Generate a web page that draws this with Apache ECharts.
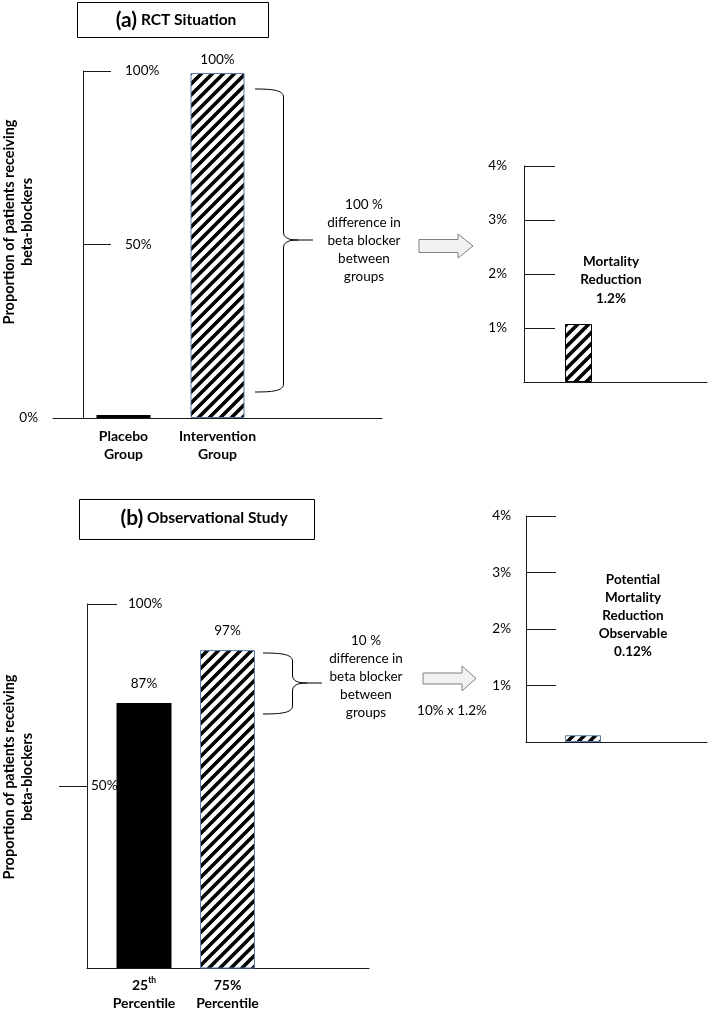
<!DOCTYPE html>
<html><head><meta charset="utf-8">
<script src="https://cdn.jsdelivr.net/npm/echarts@6/dist/echarts.min.js"></script>
<style>html,body{margin:0;padding:0;background:#fff}#c{width:708px;height:1010px}</style>
</head><body><div id="c"></div>
<script>
// ---- data ----
const rctCategories = ['Placebo Group', 'Intervention Group'];
const rctValues = [0, 100];
const rctMortalityCategories = ['Mortality Reduction'];
const rctMortalityValues = [1.2];
const obsCategories = ['25th Percentile', '75% Percentile'];
const obsValues = [87, 97];
const obsMortalityCategories = ['Potential Mortality Reduction Observable'];
const obsMortalityValues = [0.12];
const proportionTicks = [0, 50, 100];
const mortalityTicks = [0, 1, 2, 3, 4];

// ---- style ----
const FONT = 'Lato, "Open Sans", sans-serif';
const AX = '#1a1a1a';
const BLUE = '#5b7da8';
const pct = v => v + '%';

function hatch() {
  const p = 11, c = document.createElement('canvas');
  c.width = p; c.height = p;
  const g = c.getContext('2d');
  g.fillStyle = '#fff'; g.fillRect(0, 0, p, p);
  g.strokeStyle = '#000'; g.lineWidth = 3.6; g.beginPath();
  g.moveTo(-2, p + 2); g.lineTo(p + 2, -2);
  g.moveTo(-2, 2); g.lineTo(2, -2);
  g.moveTo(p - 2, p + 2); g.lineTo(p + 2, p - 2);
  g.stroke();
  return { image: c, repeat: 'repeat' };
}
const HATCH = hatch();

const lineStyle = { color: AX, width: 1 };
const G = (left, top, width, height) => ({ left, top, width, height, containLabel: false, outerBoundsMode: 'none' });

function catLabel(v) {
  const m = v.match(/^(\d+)(th)\s(.*)$/);
  if (m) return `{n|${m[1]}}{s|${m[2]}}\n{n|${m[3]}}`;
  return v.split(' ').map(w => `{n|${w}}`).join('\n');
}
const catRich = {
  n: { fontFamily: FONT, fontWeight: 'bold', fontSize: 14, lineHeight: 18, color: '#000' },
  s: { fontFamily: FONT, fontWeight: 'bold', fontSize: 8.5, lineHeight: 18, verticalAlign: 'top', color: '#000' }
};

const frameX = (gi) => ({ gridIndex: gi, type: 'category', data: [''], position: 'bottom',
  axisLine: { show: true, onZero: false, lineStyle }, axisTick: { show: false }, axisLabel: { show: false }, splitLine: { show: false } });
const barX = (gi, data, showLabel, margin) => ({ gridIndex: gi, type: 'category', data, position: 'bottom',
  axisLine: { show: false }, axisTick: { show: false },
  axisLabel: { show: showLabel, margin: margin || 8, formatter: catLabel, rich: catRich, interval: 0 } });
const hiddenY = (gi, min, max) => ({ gridIndex: gi, type: 'value', position: 'left', min, max, show: false, splitLine: { show: false } });
const lblStyle = { color: '#000', fontFamily: FONT, fontSize: 13.5 };

const option = {
  animation: false,
  backgroundColor: '#fff',
  grid: [
    G(53, 71, 329, 347),    // 0 RCT frame
    G(76.5, 73, 188, 345),  // 1 RCT bars
    G(524, 166, 183, 216),  // 2 RCT mortality frame
    G(524, 166, 109, 216),  // 3 RCT mortality bar
    G(87, 604, 282, 364),   // 4 Obs frame
    G(102.25, 604, 167, 364), // 5 Obs bars
    G(526, 516, 181, 226),  // 6 Obs mortality frame
    G(526, 516, 114, 226)   // 7 Obs mortality bar
  ],
  xAxis: [
    frameX(0),
    barX(1, rctCategories, true, 9),
    frameX(2),
    barX(3, rctMortalityCategories, false),
    frameX(4),
    barX(5, obsCategories, true, 8),
    frameX(6),
    barX(7, obsMortalityCategories, false)
  ],
  yAxis: [
    { gridIndex: 0, type: 'value', position: 'left', min: proportionTicks[0], max: proportionTicks[2], interval: 50, offset: -30,
      axisLine: { show: true, onZero: false, lineStyle }, axisTick: { show: true, inside: true, length: 28, lineStyle },
      axisLabel: { inside: true, margin: 42, ...lblStyle, formatter: v => v === 0 ? '' : pct(v) }, splitLine: { show: false } },
    { gridIndex: 0, type: 'value', position: 'left', min: 0, max: 100, interval: 100, offset: -30,
      axisLine: { show: false }, axisTick: { show: false },
      axisLabel: { margin: 45, ...lblStyle, padding: [14, 0, 0, 0], formatter: v => v === 0 ? pct(v) : '' }, splitLine: { show: false } },
    hiddenY(1, 0, 100),
    { gridIndex: 2, type: 'value', position: 'left', min: mortalityTicks[0], max: mortalityTicks[4], interval: 1,
      axisLine: { show: true, onZero: false, lineStyle }, axisTick: { show: true, inside: true, length: 31, lineStyle },
      axisLabel: { margin: 17, ...lblStyle, formatter: v => v === 0 ? '' : pct(v) }, splitLine: { show: false } },
    hiddenY(3, 0, 4.47),
    { gridIndex: 4, type: 'value', position: 'left', min: 0, max: 100, interval: 100,
      axisLine: { show: true, onZero: false, lineStyle }, axisTick: { show: true, inside: true, length: 30, lineStyle },
      axisLabel: { inside: true, margin: 41, ...lblStyle, formatter: v => v === 100 ? pct(v) : '' }, splitLine: { show: false } },
    { gridIndex: 4, type: 'value', position: 'left', min: 0, max: 100, interval: 50,
      axisLine: { show: false }, axisTick: { show: true, inside: false, length: 28, lineStyle, customValues: [proportionTicks[1]] },
      axisLabel: { inside: true, margin: 4, ...lblStyle, padding: [8, 0, 0, 0], customValues: [proportionTicks[1]], formatter: v => v === 50 ? pct(v) : '' }, splitLine: { show: false } },
    hiddenY(5, 37, 105.7),
    { gridIndex: 6, type: 'value', position: 'left', min: mortalityTicks[0], max: mortalityTicks[4], interval: 1,
      axisLine: { show: true, onZero: false, lineStyle }, axisTick: { show: true, inside: true, length: 30, lineStyle },
      axisLabel: { margin: 15, ...lblStyle, formatter: v => v === 0 ? '' : pct(v) }, splitLine: { show: false } },
    hiddenY(7, 0, 4)
  ],
  series: [
    { type: 'bar', xAxisIndex: 1, yAxisIndex: 2, barWidth: 54, barMinHeight: 3,
      data: rctValues.map((v, i) => ({ value: v,
        itemStyle: i === 0 ? { color: '#000' } : { color: HATCH, borderColor: BLUE, borderWidth: 1 },
        label: { show: i === 1 } })),
      label: { position: 'top', distance: 6, ...lblStyle, formatter: p => pct(p.value) } },
    { type: 'bar', xAxisIndex: 3, yAxisIndex: 4, barWidth: 27,
      data: rctMortalityValues, itemStyle: { color: HATCH, borderColor: '#000', borderWidth: 1 } },
    { type: 'bar', xAxisIndex: 5, yAxisIndex: 7, barWidth: 55,
      data: obsValues.map((v, i) => ({ value: v,
        itemStyle: i === 0 ? { color: '#000' } : { color: HATCH, borderColor: BLUE, borderWidth: 1 } })),
      label: { show: true, position: 'top', distance: 12, ...lblStyle, formatter: p => pct(p.value) } },
    { type: 'bar', xAxisIndex: 7, yAxisIndex: 9, barWidth: 36,
      data: obsMortalityValues, itemStyle: { color: HATCH, borderColor: BLUE, borderWidth: 1 } }
  ]
};

// ---- annotations ----
const S = { stroke: '#000', lineWidth: 1, fill: null };
function brace(x0, xv, xt, yTop, yMid, yBot) {
  const r = 8;
  return [
    { type: 'bezierCurve', shape: { x1: x0, y1: yTop, cpx1: x0 + 17, cpy1: yTop, cpx2: xv, cpy2: yTop + 1, x2: xv, y2: yTop + r }, style: S },
    { type: 'line', shape: { x1: xv, y1: yTop + r, x2: xv, y2: yMid - r }, style: S },
    { type: 'bezierCurve', shape: { x1: xv, y1: yMid - r, cpx1: xv, cpy1: yMid - 2, cpx2: xv + 5, cpy2: yMid, x2: xv + 15, y2: yMid }, style: S },
    { type: 'line', shape: { x1: xv + 15, y1: yMid, x2: xt, y2: yMid }, style: S },
    { type: 'bezierCurve', shape: { x1: xv + 15, y1: yMid, cpx1: xv + 5, cpy1: yMid, cpx2: xv, cpy2: yMid + 2, x2: xv, y2: yMid + r }, style: S },
    { type: 'line', shape: { x1: xv, y1: yMid + r, x2: xv, y2: yBot - r }, style: S },
    { type: 'bezierCurve', shape: { x1: xv, y1: yBot - r, cpx1: xv, cpy1: yBot - 1, cpx2: x0 + 17, cpy2: yBot, x2: x0, y2: yBot }, style: S }
  ];
}
function arrow(x0, xh, x1, yc, bh, hh) {
  return { type: 'polygon', shape: { points: [[x0, yc - bh], [xh, yc - bh], [xh, yc - hh], [x1, yc], [xh, yc + hh], [xh, yc + bh], [x0, yc + bh]] },
    style: { fill: '#f2f2f2', stroke: '#808080', lineWidth: 1 } };
}
function txt(text, x, y, opts) {
  opts = opts || {};
  return { type: 'text', x, y, rotation: opts.rotation || 0, z: 10,
    style: { text, fill: '#000', font: (opts.bold ? 'bold ' : '') + (opts.size || 13.5) + 'px ' + FONT,
      textAlign: 'center', textVerticalAlign: 'middle', align: 'center', verticalAlign: 'middle',
      lineHeight: opts.lh || 18, rich: opts.rich } };
}
const titleRich = {
  p: { fontFamily: FONT, fontWeight: 'bold', fontSize: 21, color: '#000' },
  t: { fontFamily: FONT, fontWeight: 'bold', fontSize: 15.5, color: '#000' }
};
const yTitle = 'Proportion of patients receiving\nbeta-blockers';

option.graphic = { elements: [
  { type: 'rect', shape: { x: 77.5, y: 2.5, width: 191, height: 35 }, style: { fill: '#fff', stroke: '#000', lineWidth: 1 } },
  txt('{p|(a)}{t| RCT Situation}', 176, 20, { rich: titleRich }),
  { type: 'rect', shape: { x: 79.5, y: 499.5, width: 235, height: 40 }, style: { fill: '#fff', stroke: '#000', lineWidth: 1 } },
  txt('{p|(b)}{t| Observational Study}', 204, 518, { rich: titleRich }),
  ...brace(255, 283.5, 313, 89, 240, 392),
  ...brace(263, 292.5, 322, 653, 683, 714),
  arrow(419, 458, 473, 246, 6.5, 12),
  arrow(423, 462, 476, 678.5, 5.5, 12.5),
  txt('100 %\ndifference in\nbeta blocker\nbetween\ngroups', 364, 241),
  txt('10 %\ndifference in\nbeta blocker\nbetween\ngroups', 366, 677),
  txt('10% x 1.2%', 452, 711),
  txt('Mortality\nReduction\n1.2%', 611, 280, { bold: true, lh: 18.5 }),
  txt('Potential\nMortality\nReduction\nObservable\n0.12%', 633, 615.5, { bold: true }),
  txt(yTitle, 18.5, 222, { bold: true, size: 14.5, rotation: Math.PI / 2 }),
  txt(yTitle, 18.5, 777, { bold: true, size: 14.5, rotation: Math.PI / 2 })
] };

const chart = echarts.init(document.getElementById('c'), null, { renderer: 'canvas' });
chart.setOption(option);
</script>
</body></html>
